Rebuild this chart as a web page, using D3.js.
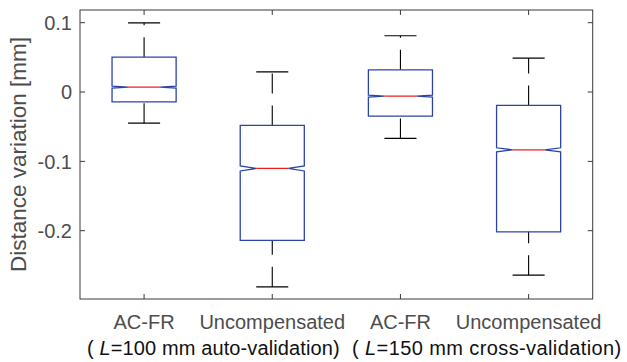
<!DOCTYPE html>
<html>
<head>
<meta charset="utf-8">
<script src="https://cdn.jsdelivr.net/npm/d3@7"></script>
<style>
  html, body { margin: 0; padding: 0; background: #fff; }
  svg { display: block; }
  text { font-family: "Liberation Sans", Arial, Helvetica, sans-serif; }
</style>
</head>
<body>
<svg id="chart" width="627" height="362"></svg>
<script>
const categories = ["AC-FR", "Uncompensated", "AC-FR", "Uncompensated"];
const upperWhisker = [0.0998, 0.0291, 0.0811, 0.0489];
const q3Values = [0.0503, -0.0482, 0.0320, -0.0193];
const medianValues = [0.0071, -0.1102, -0.0059, -0.0834];
const q1Values = [-0.0141, -0.2140, -0.0348, -0.2016];
const lowerWhisker = [-0.0449, -0.2810, -0.0669, -0.2641];
const notchHalf = [0.0015, 0.0036, 0.0015, 0.0030];
const yTicks = [-0.2, -0.1, 0, 0.1];
const yTickLabels = ["-0.2", "-0.1", "0", "0.1"];
const groupLabels = [
  { pre: "( ", it: "L", post: "=100 mm auto-validation)" },
  { pre: "( ", it: "L", post: "=150 mm cross-validation)" }
];
const yLabel = "Distance variation [mm]";

(function () {
const svg = d3.select("#chart");
const pLeft = 80, pRight = 592.7, pTop = 10, pBottom = 299;

const x = d3.scaleLinear().domain([0.5, categories.length + 0.5]).range([pLeft, pRight]);
const y = d3.scaleLinear().domain([-0.2985, 0.1183]).range([pBottom, pTop]);

const halfBox = (x(1.25) - x(1));
const capHalf = halfBox / 2;

const axisColor = "#3a3a3a";
const tickColor = "#4d4d4d";
const boxColor = "#2a45a8";
const medColor = "#f01c1c";

const data = categories.map((c, i) => ({
  i, c, pos: i + 1,
  hi: upperWhisker[i], q3: q3Values[i], med: medianValues[i],
  q1: q1Values[i], lo: lowerWhisker[i], nh: notchHalf[i]
}));

const g = svg.append("g");
g.append("rect").attr("x", pLeft).attr("y", pTop)
  .attr("width", pRight - pLeft).attr("height", pBottom - pTop)
  .attr("fill", "none").attr("stroke", axisColor).attr("stroke-width", 1);

const tl = 5;
yTicks.forEach((t, k) => {
  const yy = y(t);
  g.append("line").attr("x1", pLeft).attr("x2", pLeft + tl).attr("y1", yy).attr("y2", yy)
    .attr("stroke", axisColor).attr("stroke-width", 1);
  g.append("line").attr("x1", pRight).attr("x2", pRight - tl).attr("y1", yy).attr("y2", yy)
    .attr("stroke", axisColor).attr("stroke-width", 1);
  g.append("text").attr("x", pLeft - 8).attr("y", yy).attr("dy", "0.36em")
    .attr("text-anchor", "end").attr("font-size", 20).attr("fill", tickColor)
    .text(yTickLabels[k]);
});

data.forEach(d => {
  const xx = x(d.pos);
  g.append("line").attr("x1", xx).attr("x2", xx).attr("y1", pBottom).attr("y2", pBottom - tl)
    .attr("stroke", axisColor).attr("stroke-width", 1);
  g.append("line").attr("x1", xx).attr("x2", xx).attr("y1", pTop).attr("y2", pTop + tl)
    .attr("stroke", axisColor).attr("stroke-width", 1);
  g.append("text").attr("x", xx).attr("y", 329)
    .attr("text-anchor", "middle").attr("font-size", 20).attr("fill", tickColor)
    .text(d.c);
});

const glX = [87, 352];
const glSpacing = [0.12, 0.4];
groupLabels.forEach((gl, k) => {
  const t = g.append("text").attr("x", glX[k]).attr("y", 355)
    .attr("font-size", 20).attr("fill", "#111")
    .attr("letter-spacing", glSpacing[k]);
  t.append("tspan").text(gl.pre);
  t.append("tspan").attr("font-style", "italic").text(gl.it);
  t.append("tspan").text(gl.post);
});

g.append("text")
  .attr("transform", `translate(26,${(pTop + pBottom) / 2}) rotate(-90)`)
  .attr("text-anchor", "middle").attr("font-size", 22.5).attr("fill", tickColor)
  .text(yLabel);

const bg = svg.append("g");
data.forEach(d => {
  const cx = x(d.pos);
  const l = cx - halfBox, r = cx + halfBox;
  const ni = halfBox / 2;
  bg.append("line").attr("x1", cx).attr("x2", cx).attr("y1", y(d.q3)).attr("y2", y(d.hi))
    .attr("stroke", "#000").attr("stroke-width", 1.1).attr("stroke-dasharray", "20,12");
  bg.append("line").attr("x1", cx).attr("x2", cx).attr("y1", y(d.lo)).attr("y2", y(d.q1))
    .attr("stroke", "#000").attr("stroke-width", 1.1).attr("stroke-dasharray", "20,12");
  [d.hi, d.lo].forEach(v => {
    bg.append("line").attr("x1", cx - capHalf).attr("x2", cx + capHalf)
      .attr("y1", y(v)).attr("y2", y(v)).attr("stroke", "#000").attr("stroke-width", 1.1);
  });
  const pts = [
    [l, y(d.q3)], [r, y(d.q3)], [r, y(d.med + d.nh)], [r - ni, y(d.med)],
    [r, y(d.med - d.nh)], [r, y(d.q1)], [l, y(d.q1)], [l, y(d.med - d.nh)],
    [l + ni, y(d.med)], [l, y(d.med + d.nh)]
  ];
  bg.append("path").attr("d", d3.line()(pts) + "Z")
    .attr("fill", "none").attr("stroke", boxColor).attr("stroke-width", 1.3);
  bg.append("line").attr("x1", l + ni).attr("x2", r - ni)
    .attr("y1", y(d.med)).attr("y2", y(d.med))
    .attr("stroke", medColor).attr("stroke-width", 1.3);
});
})();
</script>
</body>
</html>
